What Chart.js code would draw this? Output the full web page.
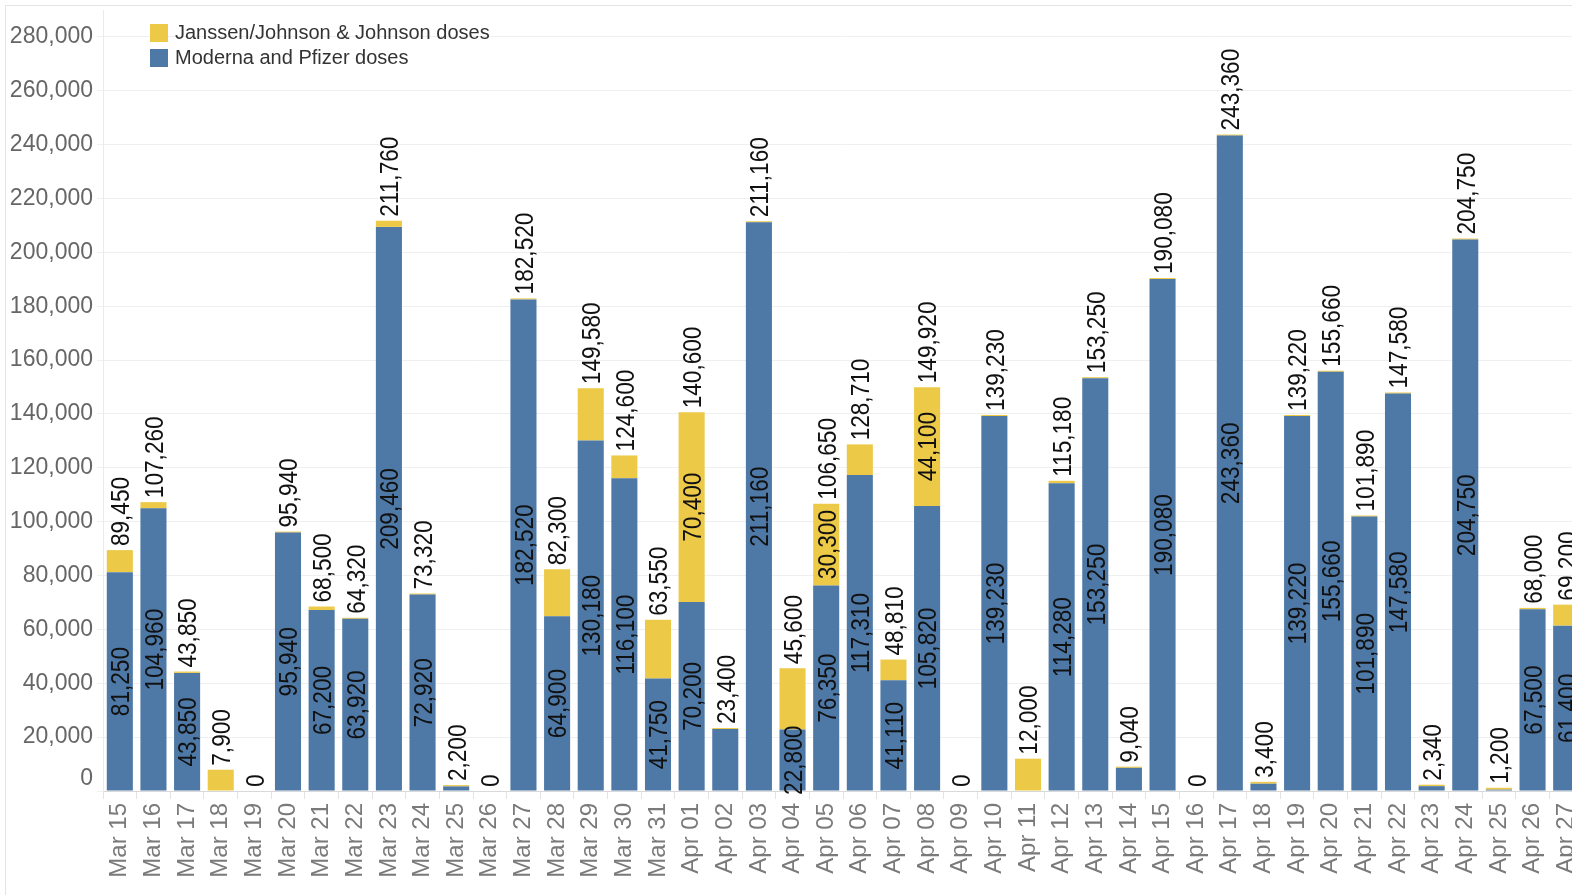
<!DOCTYPE html>
<html><head><meta charset="utf-8">
<script src="https://cdn.jsdelivr.net/npm/chart.js@4.4.1/dist/chart.umd.min.js"></script>
<style>
html,body{margin:0;padding:0;background:#fff;overflow:hidden;width:1572px;height:895px;}
#wrap{position:absolute;left:0;top:0;width:1600px;height:895px;}
#frame{position:absolute;left:5px;top:5px;width:1600px;height:900px;border-left:1px solid #e4e4e4;border-top:1px solid #e4e4e4;pointer-events:none;}
#legend{position:absolute;left:150px;top:20px;font-family:Arial,"Liberation Sans",sans-serif;font-size:20px;color:#333;}
.item{display:flex;align-items:center;height:25px;white-space:nowrap;}
.sw{width:18px;height:18px;margin-right:7px;flex:none;}
</style>
</head><body>
<div id="wrap"><canvas id="c" width="1600" height="895"></canvas></div>
<div id="frame"></div>
<div id="legend">
  <div class="item"><span class="sw" style="background:#edc948"></span>Janssen/Johnson &amp; Johnson doses</div>
  <div class="item"><span class="sw" style="background:#4e79a7"></span>Moderna and Pfizer doses</div>
</div>
<script>
const dates = ['Mar 15','Mar 16','Mar 17','Mar 18','Mar 19','Mar 20','Mar 21','Mar 22','Mar 23','Mar 24','Mar 25','Mar 26','Mar 27','Mar 28','Mar 29','Mar 30','Mar 31',
  'Apr 01','Apr 02','Apr 03','Apr 04','Apr 05','Apr 06','Apr 07','Apr 08','Apr 09','Apr 10','Apr 11','Apr 12','Apr 13','Apr 14','Apr 15','Apr 16','Apr 17','Apr 18','Apr 19','Apr 20','Apr 21','Apr 22','Apr 23','Apr 24','Apr 25','Apr 26','Apr 27'];
const modernaPfizer = [81250,104960,43850,0,0,95940,67200,63920,209460,72920,1700,0,182520,64900,130180,116100,41750,
  70200,23000,211160,22800,76350,117310,41110,105820,0,139230,0,114280,153250,8600,190080,0,243360,2700,139220,155660,101890,147580,1800,204750,500,67500,61400];
const janssen = [8200,2300,500,7900,0,400,1300,400,2300,400,500,0,400,17400,19400,8500,21800,
  70400,400,400,22800,30300,11400,7700,44100,0,400,12000,900,400,440,400,0,400,700,400,400,400,400,540,400,700,500,7800];
const totals = [89450,107260,43850,7900,0,95940,68500,64320,211760,73320,2200,0,182520,82300,149580,124600,63550,
  140600,23400,211160,45600,106650,128710,48810,149920,0,139230,12000,115180,153250,9040,190080,0,243360,3400,139220,155660,101890,147580,2340,204750,1200,68000,69200];
const yTicks = [0,20000,40000,60000,80000,100000,120000,140000,160000,180000,200000,220000,240000,260000,280000];

const FAM = 'Arial, "Liberation Sans", sans-serif';
const fmt = v => v.toLocaleString('en-US');

const labelPlugin = {
  id: 'vals',
  afterDatasetsDraw(chart) {
    const ctx = chart.ctx, y = chart.scales.y;
    const mB = chart.getDatasetMeta(0), mJ = chart.getDatasetMeta(1);
    const fs = 26, k = 0.87;
    ctx.save();
    ctx.font = fs + 'px ' + FAM;
    ctx.fillStyle = '#111';
    ctx.textBaseline = 'alphabetic';
    const off = 0.36 * fs;
    const W = t => ctx.measureText(t).width * k;
    const put = (txt, x, yy, align) => {
      ctx.save(); ctx.translate(x, yy); ctx.rotate(-Math.PI / 2); ctx.scale(k, 1);
      ctx.textAlign = align; ctx.fillText(txt, 0, off); ctx.restore();
    };
    const base = y.getPixelForValue(0);
    for (let i = 0; i < dates.length; i++) {
      const b = mB.data[i], j = mJ.data[i];
      const x = b.x;
      const top = Math.min(b.y, j.y, base);
      put(fmt(totals[i]), x, top - 4, 'left');
      if (modernaPfizer[i] > 0) {
        const t = fmt(modernaPfizer[i]);
        const cy = (b.y + base) / 2;
        if (cy - W(t) / 2 >= top) put(t, x, cy, 'center');
      }
      if (janssen[i] > 0) {
        const t = fmt(janssen[i]);
        const h = Math.abs(j.base - j.y);
        if (h >= W(t)) put(t, x, (j.y + j.base) / 2, 'center');
      }
    }
    ctx.restore();
  },
  afterDraw(chart) {
    const ctx = chart.ctx, y = chart.scales.y;
    ctx.save();
    ctx.font = '23px ' + FAM;
    ctx.fillStyle = '#666';
    ctx.textAlign = 'right';
    ctx.textBaseline = 'middle';
    ctx.fillText('0', y.right - 10, y.getPixelForValue(0) - 12);
    ctx.restore();
  }
};

new Chart(document.getElementById('c'), {
  type: 'bar',
  data: {
    labels: dates,
    datasets: [
      { label: 'Moderna and Pfizer doses', data: modernaPfizer, backgroundColor: '#4e79a7', barPercentage: 0.775, categoryPercentage: 1 },
      { label: 'Janssen/Johnson & Johnson doses', data: janssen, backgroundColor: '#edc948', barPercentage: 0.775, categoryPercentage: 1 }
    ]
  },
  options: {
    responsive: false,
    animation: false,
    devicePixelRatio: 1,
    layout: { padding: { top: 10, right: 17, left: 0, bottom: 0 } },
    plugins: { legend: { display: false }, tooltip: { enabled: false } },
    scales: {
      x: {
        stacked: true,
        grid: { offset: true, drawOnChartArea: false, tickLength: 8, color: '#e3e3e3' },
        border: { color: '#d9d9d9' },
        ticks: { minRotation: 90, maxRotation: 90, autoSkip: false, color: '#7a7a7a', padding: 4, font: { size: 24, family: FAM } },
        afterFit(s) { s.height = 104; s.paddingLeft = 0; s.paddingRight = 0; }
      },
      y: {
        stacked: true,
        min: 0, max: 290000,
        afterBuildTicks(s) { s.ticks = yTicks.map(v => ({ value: v })); },
        ticks: { color: '#666', padding: 4, font: { size: 23, family: FAM }, callback: v => v === 0 ? '' : fmt(v) },
        grid: { color: '#efefef', tickLength: 6 },
        border: { color: '#ebebeb' },
        afterFit(s) { s.width = 103; s.paddingTop = 0; s.paddingBottom = 0; }
      }
    }
  },
  plugins: [labelPlugin]
});
</script>
</body></html>
